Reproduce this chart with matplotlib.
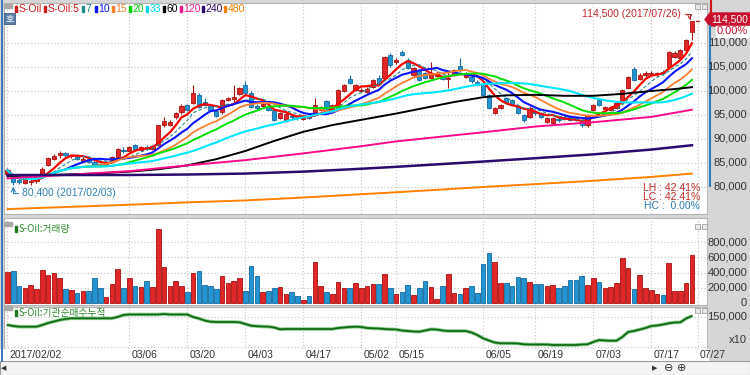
import matplotlib
matplotlib.use("Agg")
import matplotlib.pyplot as plt
from matplotlib.patches import Rectangle, Polygon
from matplotlib import transforms
import numpy as np
import pandas as pd

NARROW = ["Liberation Sans Narrow", "DejaVu Sans Condensed", "Liberation Sans"]
KR = ["Noto Sans CJK KR", "DejaVu Sans"]

# KRX trading days in the window (exchange holidays removed)
holidays = pd.to_datetime(["2017-03-01", "2017-05-01", "2017-05-03",
                           "2017-05-05", "2017-05-09", "2017-06-06"])
days = pd.bdate_range("2017-02-02", "2017-07-26")
days = days[~days.isin(holidays)]

# daily prices, thousand won
opens = [82.8, 82.5, 81.5, 80.8, 81.0, 81.2, 82.0, 84.6, 85.9, 86.6,
         87.0, 86.4, 86.6, 85.5, 85.8, 85.3, 84.8, 84.5, 85.6, 86.3,
         87.8, 87.6, 88.7, 87.7, 88.4, 88.0, 88.8, 92.9, 93.0, 94.6,
         95.6, 97.1, 97.5, 99.2, 97.7, 96.9, 95.8, 95.6, 98.2, 98.4,
         99.4, 101.3, 99.6, 96.8, 96.9, 96.7, 96.0, 94.4, 93.8, 94.8,
         94.6, 94.2, 94.7, 95.0, 96.0, 98.0, 96.0, 96.7, 100.0, 102.5,
         100.3, 100.0, 99.7, 100.8, 102.7, 102.7, 107.5, 106.0, 108.1, 106.5,
         103.3, 104.4, 103.8, 102.8, 103.2, 102.9, 102.5, 103.3, 105.3, 103.0,
         103.0, 101.9, 101.5, 99.2, 95.4, 96.5, 98.5, 98.1, 96.7, 95.0,
         94.6, 95.7, 95.4, 93.5, 93.3, 94.2, 94.5, 94.6, 94.3, 93.6,
         92.9, 96.0, 98.1, 96.3, 96.1, 96.5, 97.7, 100.6, 104.6, 102.6,
         103.3, 103.5, 103.5, 104.0, 104.9, 107.1, 106.9, 108.5, 112.3]
highs = [84.0, 82.8, 82.0, 82.0, 81.6, 82.3, 84.2, 86.2, 86.9, 87.4,
         87.2, 86.9, 86.8, 86.2, 86.0, 85.6, 85.0, 85.0, 86.5, 88.2,
         88.4, 88.5, 89.0, 88.6, 88.7, 88.8, 93.0, 94.6, 93.9, 95.6,
         97.2, 97.3, 101.2, 99.5, 98.6, 97.2, 96.0, 98.3, 98.8, 101.2,
         100.8, 102.0, 99.9, 97.3, 97.6, 97.0, 96.2, 95.6, 95.4, 95.0,
         94.9, 94.8, 95.0, 98.5, 96.8, 98.2, 97.3, 100.4, 101.5, 103.4,
         101.5, 100.6, 100.8, 102.5, 103.3, 107.2, 108.0, 106.9, 108.5, 106.9,
         105.1, 104.6, 104.0, 106.0, 104.1, 103.1, 104.2, 104.6, 106.9, 103.9,
         103.3, 102.2, 101.8, 99.4, 96.7, 97.3, 98.8, 98.3, 97.0, 95.2,
         96.8, 96.0, 95.6, 94.5, 94.5, 94.5, 94.8, 94.8, 94.5, 93.8,
         95.3, 97.3, 98.5, 96.9, 96.8, 97.7, 100.4, 103.1, 104.9, 103.8,
         104.1, 104.1, 104.0, 104.3, 108.4, 108.4, 108.8, 110.9, 114.5]
lows = [82.0, 80.4, 80.6, 80.6, 80.5, 80.9, 81.8, 84.4, 85.7, 86.0,
        86.3, 86.1, 85.6, 85.3, 85.1, 84.3, 84.2, 84.3, 85.3, 86.1,
        87.0, 87.3, 87.6, 87.4, 87.7, 87.8, 88.6, 92.5, 92.7, 94.2,
        95.3, 95.8, 97.3, 96.5, 96.9, 95.8, 94.5, 95.3, 97.9, 97.7,
        99.2, 99.3, 96.4, 96.0, 96.6, 95.8, 93.7, 94.2, 93.6, 94.2,
        94.0, 94.0, 94.2, 94.8, 95.8, 95.8, 95.8, 96.5, 99.8, 101.4,
        100.0, 99.8, 99.5, 100.6, 101.3, 102.4, 105.0, 105.6, 107.2, 104.5,
        103.0, 102.0, 102.5, 102.5, 103.0, 102.2, 100.6, 103.1, 104.0, 102.8,
        101.7, 101.0, 99.0, 96.3, 95.2, 96.3, 97.6, 97.0, 95.2, 93.6,
        94.4, 95.1, 94.4, 93.3, 93.0, 93.6, 94.0, 93.7, 93.7, 92.5,
        92.6, 95.8, 96.8, 96.0, 95.9, 96.3, 97.5, 100.4, 102.0, 102.3,
        103.0, 103.2, 103.2, 103.4, 104.6, 106.9, 106.6, 108.3, 110.6]
closes = [83.5, 81.0, 81.0, 81.6, 81.2, 82.0, 83.8, 86.0, 86.4, 87.0,
          86.7, 86.7, 85.8, 85.9, 85.3, 84.6, 84.4, 84.8, 86.3, 87.9,
          87.4, 88.3, 87.8, 88.4, 88.0, 88.6, 92.9, 93.7, 93.6, 95.4,
          96.9, 96.0, 99.6, 96.7, 97.1, 96.0, 94.8, 98.1, 98.6, 98.8,
          100.6, 99.6, 96.7, 96.4, 97.3, 96.1, 94.0, 95.4, 95.2, 94.5,
          94.3, 94.4, 94.4, 97.0, 96.6, 96.0, 97.1, 100.2, 101.3, 101.7,
          101.2, 100.3, 100.5, 102.3, 101.5, 107.0, 105.4, 106.4, 107.5, 104.8,
          104.8, 102.3, 102.7, 103.6, 103.8, 102.4, 102.6, 104.4, 104.4, 103.6,
          102.0, 101.2, 99.2, 96.5, 96.5, 97.1, 97.8, 97.2, 95.4, 94.0,
          96.5, 95.4, 94.6, 94.3, 94.3, 93.9, 94.2, 93.9, 93.9, 92.9,
          95.0, 97.1, 97.1, 96.6, 96.6, 97.5, 100.2, 102.9, 102.3, 103.3,
          103.8, 103.8, 103.8, 103.7, 108.2, 108.0, 108.5, 110.6, 114.5]

# volume, thousand shares
volume = [412, 425, 224, 197, 237, 184, 434, 368, 399, 329,
          184, 171, 136, 158, 162, 329, 197, 79, 250, 447,
          202, 329, 228, 211, 294, 211, 974, 478, 228, 294,
          224, 149, 395, 425, 241, 224, 184, 360, 263, 294,
          333, 162, 491, 360, 145, 162, 202, 206, 118, 145,
          96, 39, 92, 535, 228, 140, 123, 272, 202, 193,
          263, 202, 228, 254, 246, 377, 202, 123, 149, 237,
          105, 202, 290, 215, 53, 228, 377, 132, 123, 202,
          219, 132, 509, 658, 535, 263, 263, 219, 342, 333,
          272, 254, 254, 219, 237, 202, 228, 298, 298, 359,
          237, 333, 272, 197, 215, 263, 596, 465, 184, 368,
          202, 171, 118, 101, 522, 158, 162, 263, 632]

# institutional net buying, cumulative
inst_cum = [133400, 131400, 130000, 130000, 130000, 130000, 133400, 137400, 140400, 143400,
            145400, 146800, 146800, 146800, 146800, 146800, 146800, 146800, 146800, 149400,
            153400, 154400, 154400, 154400, 154400, 154400, 154400, 155400, 154400, 154400,
            154400, 154400, 149400, 146400, 142400, 140000, 139400, 139400, 139400, 139400,
            138800, 135400, 132000, 131000, 130400, 130000, 128400, 124800, 125400, 125400,
            125400, 125400, 125400, 125400, 125400, 125400, 125400, 127400, 128400, 129400,
            130000, 129400, 127400, 126800, 126400, 125400, 124800, 124400, 122400, 121400,
            120400, 120000, 122400, 124800, 124400, 122400, 121400, 121400, 121400, 121400,
            118400, 113400, 106800, 102400, 98400, 96800, 96800, 96800, 96400, 94800,
            94400, 94400, 94400, 94400, 93400, 93400, 93400, 93400, 93400, 94400,
            94800, 99400, 103400, 102400, 102000, 102000, 109400, 119400, 121400, 124400,
            127400, 131400, 132400, 134400, 136800, 138400, 138800, 146400, 151400]

# averages of 60+ days need history from before the window
ma60_day = [0, 5, 10, 15, 21, 26, 31, 36, 41, 46, 51, 56, 61,
            67, 72, 77, 82, 86, 91, 96, 101, 106, 111, 115, 118]
ma60 = [82.3, 82.4, 82.6, 82.8, 83.2, 83.7, 84.5, 85.8, 87.5, 89.6, 91.5, 92.9, 94.0,
        95.3, 96.5, 97.7, 98.7, 99.1, 99.2, 99.0, 99.0, 99.4, 100.0, 100.4, 100.8]

long_ma_dates = ["2017-02-02", "2017-03-06", "2017-03-20", "2017-04-03", "2017-04-17", "2017-05-02",
                 "2017-05-15", "2017-06-05", "2017-06-19", "2017-07-03", "2017-07-17", "2017-07-26"]
ma120 = [81.8, 83.3, 84.5, 85.6, 87.0, 88.5, 89.5, 91.4, 92.6, 93.5, 94.6, 96.1]
ma240 = [82.5, 82.5, 82.6, 82.8, 83.2, 83.8, 84.2, 85.3, 86.0, 86.8, 87.8, 88.7]
ma480 = [75.4, 76.3, 76.8, 77.2, 77.8, 78.5, 78.9, 80.0, 80.6, 81.3, 82.1, 82.8]

tick_dates = ["2017-02-02", "2017-03-06", "2017-03-20", "2017-04-03", "2017-04-17", "2017-05-02",
              "2017-05-15", "2017-06-05", "2017-06-19", "2017-07-03", "2017-07-17"]
tick_labels = ["2017/02/02", "03/06", "03/20", "04/03", "04/17", "05/02",
               "05/15", "06/05", "06/19", "07/03", "07/17"]

RED = "#e02626"
RED_EDGE = "#a81212"
BLUE = "#2394d2"
BLUE_EDGE = "#14699e"
GRID = "#c4c4c4"

o = np.array(opens)
h = np.array(highs)
l = np.array(lows)
c = np.array(closes)
x = np.arange(len(days))
up = c >= o

tick_idx = [days.get_loc(pd.Timestamp(d)) for d in tick_dates] + [len(days)]
tick_labels = tick_labels + ["07/27"]
long_idx = [days.get_loc(pd.Timestamp(d)) for d in long_ma_dates]

W, H = 750.0, 375.0


def box(x0, y0, x1, y1):
    return [x0 / W, 1 - y1 / H, (x1 - x0) / W, (y1 - y0) / H]


fig = plt.figure(figsize=(7.5, 3.75), dpi=100, facecolor="#d6d6d6")
ax_p = fig.add_axes(box(4, 3, 707, 214))
ax_v = fig.add_axes(box(4, 218, 707, 305))
ax_c = fig.add_axes(box(4, 307, 707, 349))

for ax in (ax_p, ax_v, ax_c):
    ax.set_facecolor("white")
    ax.set_xlim(-0.6, 120.6)
    ax.set_xticks([])
    ax.set_yticks([])
    for s in ax.spines.values():
        s.set_color("#b4b4b4")
        s.set_linewidth(0.8)
    for t in tick_idx:
        ax.axvline(t, color=GRID, lw=0.8, ls=(0, (1, 2)), zorder=0)

ax_p.set_ylim(74.375, 118.333)
ax_v.set_ylim(-26, 1115)
ax_c.set_ylim(85400, 169400)

price_ticks = [80, 85, 90, 95, 100, 105, 110]
vol_ticks = [0, 200, 400, 600, 800]
for p in price_ticks:
    ax_p.axhline(p, color=GRID, lw=0.8, ls=(0, (1, 2)), zorder=0)
for v in vol_ticks[1:]:
    ax_v.axhline(v, color=GRID, lw=0.8, ls=(0, (1, 2)), zorder=0)
for v in [150000, 90000]:
    ax_c.axhline(v, color=GRID, lw=0.8, ls=(0, (1, 2)), zorder=0)

# candles
body_lo = np.minimum(o, c)
body_h = np.maximum(np.abs(c - o), 0.15)
ax_p.vlines(x[up], l[up], h[up], color=RED_EDGE, lw=0.8, zorder=2)
ax_p.vlines(x[~up], l[~up], h[~up], color=BLUE_EDGE, lw=0.8, zorder=2)
ax_p.bar(x[up], body_h[up], bottom=body_lo[up], width=0.72, color=RED,
         edgecolor=RED_EDGE, linewidth=0.6, zorder=2)
ax_p.bar(x[~up], body_h[~up], bottom=body_lo[~up], width=0.72, color=BLUE,
         edgecolor=BLUE_EDGE, linewidth=0.6, zorder=2)

# moving averages
cs = pd.Series(c)
short_ma = [(5, "#ff0000", 1.6, "-"), (7, "#1f8a8a", 0.8, (0, (3, 2))),
            (10, "#0a14ff", 1.5, "-"), (15, "#ff7f30", 1.3, "-"),
            (20, "#00e000", 1.4, "-"), (33, "#00e6ff", 1.5, "-")]
for n, col, lw, ls in short_ma:
    ax_p.plot(x, cs.rolling(n, min_periods=1).mean(), color=col, lw=lw, ls=ls, zorder=3)
ax_p.plot(ma60_day, ma60, color="#000000", lw=1.4, zorder=3)
ax_p.plot(long_idx, ma120, color="#ff0a8c", lw=1.4, zorder=3)
ax_p.plot(long_idx, ma240, color="#2d0a6e", lw=1.8, zorder=3)
ax_p.plot(long_idx, ma480, color="#ff8000", lw=1.4, zorder=3)

# high / low annotations
ihi = int(np.argmax(h))
ilo = int(np.argmin(l))
ax_p.annotate(f"{h[ihi] * 1000:,.0f} ({days[ihi]:%Y/%m/%d})", xy=(ihi - 0.4, h[ihi] + 0.3),
              xytext=(ihi - 1.9, h[ihi] + 1.55), ha="right", va="center", fontsize=7.5,
              family=NARROW, color="#c42a2a",
              arrowprops=dict(arrowstyle="->", color="#c42a2a", lw=0.8,
                              connectionstyle="angle,angleA=0,angleB=90,rad=0",
                              shrinkA=1, shrinkB=0))
ax_p.annotate(f"{l[ilo] * 1000:,.0f} ({days[ilo]:%Y/%m/%d})", xy=(ilo, l[ilo] - 0.3),
              xytext=(ilo + 1.5, l[ilo] - 1.7), ha="left", va="center", fontsize=7.5,
              family=NARROW, color="#2f80b4",
              arrowprops=dict(arrowstyle="->", color="#2f80b4", lw=0.8,
                              connectionstyle="angle,angleA=0,angleB=90,rad=0",
                              shrinkA=1, shrinkB=0))
ax_p.plot([len(days) - 0.3, len(days) + 0.3], [c[-1], c[-1]], color="#c42a2a", lw=1, zorder=3)

lh = (h[ihi] / l[ilo] - 1) * 100
lc = (c[-1] / l[ilo] - 1) * 100
hc = (h[ihi] / c[-1] - 1) * 100
for yy, s, col in [(188, f"LH : {lh:.2f}%", "#c42a2a"), (197, f"LC : {lc:.2f}%", "#c42a2a"),
                   (206, f"HC :  {hc:.2f}%", "#2f80b4")]:
    fig.text(700 / W, 1 - yy / H, s, ha="right", va="center", fontsize=7.5,
             family=NARROW, color=col)

# volume bars
vol = np.array(volume)
ax_v.bar(x[up], vol[up], width=0.82, color=RED, edgecolor=RED_EDGE, linewidth=0.6)
ax_v.bar(x[~up], vol[~up], width=0.82, color=BLUE, edgecolor=BLUE_EDGE, linewidth=0.6)

# cumulative institutional buying
ax_c.plot(x, inst_cum, color="#8fd08f", lw=2.6, zorder=2, solid_capstyle="butt")
ax_c.plot(x, inst_cum, color="#0f6a14", lw=1.3, zorder=3)

# right-hand price strip
fig.patches.append(Rectangle((708 / W, 1 - 360 / H), 42 / W, 360 / H,
                             transform=fig.transFigure, color="#d6d6d6", zorder=0))
tr_p = transforms.blended_transform_factory(fig.transFigure, ax_p.transData)
tr_v = transforms.blended_transform_factory(fig.transFigure, ax_v.transData)
tr_c = transforms.blended_transform_factory(fig.transFigure, ax_c.transData)
for p in price_ticks:
    fig.text(747 / W, p, f"{p * 1000:,}", transform=tr_p, ha="right", va="center",
             fontsize=8, family=NARROW, color="#333333")
for v in vol_ticks:
    fig.text(747 / W, v, f"{v * 1000:,}", transform=tr_v, ha="right", va="center",
             fontsize=8, family=NARROW, color="#333333")
fig.text(747 / W, 150000, "150,000", transform=tr_c, ha="right", va="center",
         fontsize=8, family=NARROW, color="#333333")
fig.text(747 / W, 1 - 340 / H, "x10", ha="right", va="center", fontsize=8,
         family=NARROW, color="#333333")

# current price marker
fig.lines.append(plt.Line2D([711 / W, 711 / W], [1 - 1 / H, 1 - 14 / H], color="#d01818",
                            lw=1.5, transform=fig.transFigure))
fig.lines.append(plt.Line2D([710 / W, 710 / W], [1 - 26 / H, 1 - 186 / H], color="#2f7fc0",
                            lw=1.5, transform=fig.transFigure))
fig.patches.append(Polygon([[705 / W, 1 - 19.5 / H], [710 / W, 1 - 13 / H], [750 / W, 1 - 13 / H],
                            [750 / W, 1 - 26 / H], [710 / W, 1 - 26 / H]],
                           closed=True, transform=fig.transFigure, color="#c8102e"))
fig.text(748 / W, 1 - 19.5 / H, f"{c[-1] * 1000:,.0f}", ha="right", va="center",
         fontsize=7.5, family=NARROW, color="white")
fig.patches.append(Rectangle((716 / W, 1 - 37 / H), 34 / W, 11 / H,
                             transform=fig.transFigure, color="white"))
fig.text(748 / W, 1 - 31.5 / H, "0.00%", ha="right", va="center", fontsize=8,
         family=NARROW, color="#c8102e")

# legend row
legend = [("S-Oil", "#d01818", 15), ("S-Oil:5", "#d01818", 44), ("7", "#1f8a8a", 82),
          ("10", "#0a14ff", 95), ("15", "#ff7f30", 112), ("20", "#00d000", 129),
          ("33", "#00d6f0", 146), ("60", "#000000", 163), ("120", "#f0148c", 180),
          ("240", "#2d0a6e", 202), ("480", "#ff8000", 224)]
fig.patches.append(Rectangle((4 / W, 1 - 8 / H), 8 / W, 4 / H, transform=fig.transFigure,
                             color="#a8a8a8"))
for s, col, px in legend:
    fig.patches.append(Rectangle((px / W, 1 - 12 / H), 2.2 / W, 6 / H,
                                 transform=fig.transFigure, color=col))
    fig.text((px + 3.5) / W, 1 - 9 / H, s, ha="left", va="center", fontsize=7.5,
             family=NARROW, color=col)
fig.patches.append(Rectangle((4 / W, 1 - 24 / H), 11 / W, 11 / H, transform=fig.transFigure,
                             facecolor="#5b7fa6", edgecolor="#3d5f85", lw=0.6))
fig.text(9.5 / W, 1 - 18.5 / H, "호", ha="center", va="center", fontsize=6.5,
         family=KR, color="white")

# panel titles
for yy, s in [(229, "S-Oil:거래량"), (313, "S-Oil:기관순매수누적")]:
    fig.patches.append(Rectangle((4 / W, 1 - (yy - 3) / H), 8 / W, 4 / H,
                                 transform=fig.transFigure, color="#a8a8a8"))
    fig.patches.append(Rectangle((15 / W, 1 - (yy + 3) / H), 2.2 / W, 6 / H,
                                 transform=fig.transFigure, color="#1f7a1f"))
    fig.text(18.5 / W, 1 - yy / H, s, ha="left", va="center", fontsize=7,
             family=KR, color="#2e8b2e")

# tiny window buttons at the top right of each panel
for yy in (4, 224, 308):
    for xx in (695, 701.5):
        fig.patches.append(Rectangle((xx / W, 1 - (yy + 5) / H), 5 / W, 5 / H,
                                     transform=fig.transFigure, facecolor="#e8e8e8",
                                     edgecolor="#909090", lw=0.5))

# date strip
fig.patches.append(Rectangle((0, 1 - 361 / H), 708 / W, 12 / H, transform=fig.transFigure,
                             color="white", zorder=0))
tr_d = transforms.blended_transform_factory(ax_c.transData, fig.transFigure)
for t, s in zip(tick_idx, tick_labels):
    fig.text(t + 0.35, 1 - 354.5 / H, s, transform=tr_d, ha="left", va="center",
             fontsize=7.5, family=NARROW, color="#333333")

# scroll bar
fig.patches.append(Rectangle((0, 0), 1, 14 / H, transform=fig.transFigure,
                             facecolor="#f4f4f4", edgecolor="#9a9a9a", lw=0.8))
fig.text(4 / W, 7 / H, "◀", ha="center", va="center", fontsize=5, color="#333333")
fig.text(655 / W, 7 / H, "▶", ha="center", va="center", fontsize=5, color="#333333")
fig.text(669 / W, 7 / H, "⊖", ha="center", va="center", fontsize=8, color="#333333")
fig.text(682 / W, 7 / H, "⊕", ha="center", va="center", fontsize=8, color="#333333")
fig.lines.append(plt.Line2D([2 / W, 2 / W], [14 / H, 1], color="#3a78c0",
                            lw=1.4, transform=fig.transFigure))

fig.savefig("out.png", dpi=100, facecolor=fig.get_facecolor())
